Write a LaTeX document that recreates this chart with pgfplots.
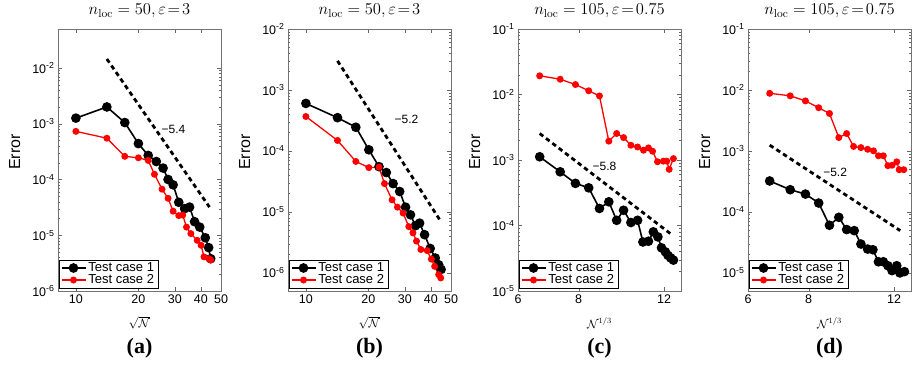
\documentclass[border=0pt]{standalone}
\usepackage{fontspec}
\usepackage{graphicx}
\newfontfamily\arial{Liberation Sans}
\newfontfamily\capfont{Liberation Serif}
\usepackage{pgfplots}
\pgfplotsset{compat=1.18}
\newcommand{\legfont}{\arial\fontsize{13}{15}\selectfont}
\newcommand{\ttl}[1]{\scalebox{1.15}{#1}}
\pgfplotsset{
  myaxstyle/.style={
    scale only axis, width=163pt, height=262pt,
    anchor=south west,
    axis line style={black!55}, tick style={black!60},
    tick align=inside, major tick length=4pt, minor tick length=2pt,
    minor xtick={},
    tick label style={font=\arial\fontsize{12.5}{14}\selectfont},
    xticklabel style={yshift=0pt},
    ylabel={\arial Error},
    ylabel style={font=\arial\fontsize{16}{18}\selectfont, at={(axis description cs:-0.265,0.53)}, anchor=center},
    xlabel style={font=\fontsize{12}{14}\selectfont, inner sep=0pt, at={(axis description cs:0.5,0)}, anchor=center, yshift=-32pt},
    title style={font=\fontsize{14.4}{17}\selectfont, at={(axis description cs:0.5,1)}, anchor=base, yshift=8pt},
    legend style={at={(axis description cs:0,0)}, anchor=south west, xshift=0.5pt, yshift=3pt,
      draw=black, inner xsep=2pt, inner ysep=0.5pt, row sep=-2.5pt},
    legend cell align=left,
    legend image code/.code={\draw[mark repeat=2,mark phase=2,##1] plot coordinates {(0pt,0pt) (12pt,0pt) (24pt,0pt)};},
  },
}
\tikzset{
  serA/.style={black, line width=1.6pt, mark=*, mark size=4pt, mark options={solid}},
  serB/.style={red, line width=1.3pt, mark=*, mark size=2.8pt, mark options={solid}},
  refline/.style={black, line width=2.8pt, dash pattern=on 4.5pt off 3.5pt},
  slab/.style={font=\arial\fontsize{12}{14}\selectfont},
}
\newcommand{\leg}{\addlegendentry{\legfont Test case 1}\addlegendentry{\legfont Test case 2}}
\begin{document}
\begin{tikzpicture}
\path[use as bounding box] (0pt,0pt) rectangle (915pt,364pt);
% (a)
\begin{axis}[myaxstyle, xmode=log, ymode=log, name=a, at={(58pt,73pt)},
  xmin=8.2, xmax=50, ymin=1e-6, ymax=5e-2,
  xtick={10,20,30,40,50}, xticklabels={10,20,30,40,50},
  ytick={1e-6,1e-5,1e-4,1e-3,1e-2},
  yticklabels={10\textsuperscript{-6},10\textsuperscript{-5},10\textsuperscript{-4},10\textsuperscript{-3},10\textsuperscript{-2}},
  xlabel={$\sqrt{\mathcal{N}}$},
  title={\ttl{$n_{\mathrm{loc}} = 50, \varepsilon\!=\!3$}}]
\addplot[serA] coordinates {(10,1.26e-3) (14.1,2.0e-3) (17.2,1.05e-3) (20.0,4.4e-4) (22.3,2.7e-4) (24.4,2.1e-4) (26.3,1.6e-4) (27.8,1.0e-4) (29.4,8.0e-5) (31.3,3.9e-5) (33.4,3.0e-5) (35.3,3.2e-5) (37.3,1.75e-5) (39.5,1.4e-5) (42.0,9.0e-6) (43.6,6.0e-6) (44.6,3.8e-6)};
\addplot[serB] coordinates {(10,7.3e-4) (14.1,5.5e-4) (17.2,2.6e-4) (20.0,2.45e-4) (22.3,2.2e-4) (23.9,1.24e-4) (26.0,6.7e-5) (27.8,4.6e-5) (29.4,2.7e-5) (31.3,2.25e-5) (32.7,2.3e-5) (34.1,1.4e-5) (35.8,1.07e-5) (38.4,8.1e-6) (40.1,6.6e-6) (41.4,4.1e-6) (43.6,3.8e-6) (44.6,3.6e-6)};
\addplot[refline, forget plot] coordinates {(14.1,1.45e-2) (44,3.2e-5)};
\node[slab] at (axis cs:29.5,8e-4) {−5.4};
\leg
\end{axis}
% (b)
\begin{axis}[myaxstyle, xmode=log, ymode=log, name=b, at={(288pt,73pt)},
  xmin=8.2, xmax=50, ymin=5e-7, ymax=1e-2,
  xtick={10,20,30,40,50}, xticklabels={10,20,30,40,50},
  ytick={1e-6,1e-5,1e-4,1e-3,1e-2},
  yticklabels={10\textsuperscript{-6},10\textsuperscript{-5},10\textsuperscript{-4},10\textsuperscript{-3},10\textsuperscript{-2}},
  xlabel={$\sqrt{\mathcal{N}}$},
  title={\ttl{$n_{\mathrm{loc}} = 50, \varepsilon\!=\!3$}}]
\addplot[serA] coordinates {(10,6.0e-4) (14.2,3.5e-4) (17.4,2.44e-4) (20.1,1.04e-4) (22.5,5.5e-5) (24.4,4.4e-5) (26.3,2.9e-5) (28.3,2.15e-5) (30.2,1.19e-5) (31.9,8.9e-6) (33.7,5.9e-6) (35.3,6.5e-6) (37.3,4.2e-6) (39.7,2.5e-6) (42.0,1.74e-6) (43.6,1.35e-6) (44.8,1.13e-6)};
\addplot[serB] coordinates {(10,3.66e-4) (14.2,1.48e-4) (17.4,6.7e-5) (20.1,5.3e-5) (22.5,5.4e-5) (23.9,2.9e-5) (26.0,1.57e-5) (27.6,1.19e-5) (29.4,9.5e-6) (31.3,5.7e-6) (32.8,4.5e-6) (34.1,3.3e-6) (35.8,2.4e-6) (38.4,2.3e-6) (40.2,1.67e-6) (41.7,1.27e-6) (43.6,9.3e-7) (44.6,8.2e-7)};
\addplot[refline, forget plot] coordinates {(14.2,3.0e-3) (44.0,7.5e-6)};
\node[slab] at (axis cs:30.5,3.3e-4) {−5.2};
\leg
\end{axis}
% (c)
\begin{axis}[myaxstyle, xmode=log, ymode=log, name=c, at={(518pt,73pt)},
  xmin=6, xmax=13, ymin=1e-5, ymax=1e-1,
  xtick={6,8,12}, xticklabels={6,8,12},
  ytick={1e-5,1e-4,1e-3,1e-2,1e-1},
  yticklabels={10\textsuperscript{-5},10\textsuperscript{-4},10\textsuperscript{-3},10\textsuperscript{-2},10\textsuperscript{-1}},
  xlabel={$\mathcal{N}^{1/3}$},
  title={\ttl{$n_{\mathrm{loc}} = 105, \varepsilon\!=\!0.75$}}]
\addplot[serA] coordinates {(6.65,1.12e-3) (7.33,6.6e-4) (7.88,4.4e-4) (8.39,3.76e-4) (8.83,1.82e-4) (9.23,2.3e-4) (9.58,1.2e-4) (9.9,1.71e-4) (10.25,1.11e-4) (10.58,1.2e-4) (10.85,5.6e-5) (11.14,5.75e-5) (11.4,8.0e-5) (11.65,6.7e-5) (11.85,4.56e-5) (12.07,3.96e-5) (12.22,3.5e-5) (12.38,3.2e-5) (12.54,2.96e-5)};
\addplot[serB] coordinates {(6.65,1.93e-2) (7.33,1.71e-2) (7.88,1.42e-2) (8.39,1.14e-2) (8.83,9.5e-3) (9.23,1.94e-3) (9.58,2.54e-3) (9.9,2.2e-3) (10.25,1.68e-3) (10.58,1.58e-3) (10.88,1.41e-3) (11.14,1.53e-3) (11.36,1.36e-3) (11.63,9.4e-4) (11.96,9.6e-4) (12.15,9.6e-4) (12.29,7.2e-4) (12.54,1.05e-3)};
\addplot[refline, forget plot] coordinates {(6.65,2.54e-3) (12.35,7.55e-5)};
\node[slab] at (axis cs:9.04,8.0e-4) {−5.8};
\leg
\end{axis}
% (d)
\begin{axis}[myaxstyle, xmode=log, ymode=log, name=d, at={(748pt,73pt)},
  xmin=6, xmax=13, ymin=5e-6, ymax=1e-1,
  xtick={6,8,12}, xticklabels={6,8,12},
  ytick={1e-5,1e-4,1e-3,1e-2,1e-1},
  yticklabels={10\textsuperscript{-5},10\textsuperscript{-4},10\textsuperscript{-3},10\textsuperscript{-2},10\textsuperscript{-1}},
  xlabel={$\mathcal{N}^{1/3}$},
  title={\ttl{$n_{\mathrm{loc}} = 105, \varepsilon\!=\!0.75$}}]
\addplot[serA] coordinates {(6.65,3.2e-4) (7.33,2.3e-4) (7.88,1.95e-4) (8.39,1.39e-4) (8.83,6.0e-5) (9.23,8.1e-5) (9.58,5.1e-5) (9.93,4.9e-5) (10.25,2.95e-5) (10.58,2.44e-5) (10.85,2.38e-5) (11.14,1.51e-5) (11.4,1.51e-5) (11.65,1.3e-5) (11.88,1.08e-5) (12.15,1.3e-5) (12.33,9.9e-6) (12.6,1.04e-5)};
\addplot[serB] coordinates {(6.65,8.8e-3) (7.33,8.0e-3) (7.88,6.6e-3) (8.39,5.1e-3) (8.83,4.1e-3) (9.23,1.65e-3) (9.58,1.92e-3) (9.9,1.18e-3) (10.25,1.13e-3) (10.58,1.06e-3) (10.88,1.0e-3) (11.14,8.3e-4) (11.4,8.3e-4) (11.65,5.7e-4) (11.88,5.8e-4) (12.15,6.6e-4) (12.29,4.9e-4) (12.56,4.9e-4)};
\addplot[refline, forget plot] coordinates {(6.65,1.24e-3) (12.35,4.9e-5)};
\node[slab] at (axis cs:9.07,4.5e-4) {−5.2};
\leg
\end{axis}
\foreach \p/\t in {a/(a),b/(b),c/(c),d/(d)}{
  \node[font=\capfont\bfseries\fontsize{22}{26}\selectfont, anchor=center] at ([yshift=-57pt]\p.south) {\t};
}
\end{tikzpicture}
\end{document}
